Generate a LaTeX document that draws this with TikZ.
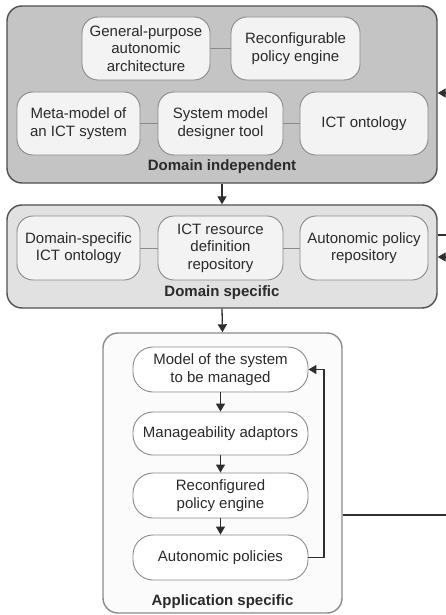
\documentclass[tikz,border=0pt]{standalone}
\usepackage{fontspec}
\setmainfont{Liberation Sans}
\usetikzlibrary{arrows.meta}
\definecolor{diFill}{HTML}{C4C4C4}
\definecolor{dsFill}{HTML}{E1E1E1}
\definecolor{appFill}{HTML}{FBFBFB}
\definecolor{innerFill}{HTML}{F3F3F3}
\definecolor{outerLine}{HTML}{505050}
\definecolor{innerLine}{HTML}{8A8A8A}
\definecolor{linkLine}{HTML}{2E2E2E}
\definecolor{textGray}{HTML}{2A2A2A}
\begin{document}
\begin{tikzpicture}[x=1pt,y=-1pt,
  font=\fontsize{15}{17.5}\selectfont, text=textGray,
  outerbox/.style={draw=outerLine, line width=1.4pt, rounded corners=15pt, inner sep=0pt},
  innerbox/.style={draw=innerLine, line width=0.9pt, fill=innerFill, rounded corners=16pt,
    align=center, inner sep=2pt},
  appitem/.style={innerbox, fill=white, rounded corners=20pt, minimum width=175pt, minimum height=45pt},
  grouplabel/.style={font=\fontsize{15}{17.5}\selectfont\bfseries, inner sep=0pt},
  peer/.style={draw=innerLine, line width=1pt},
  flow/.style={draw=linkLine, line width=1.3pt, -{Triangle[length=8pt,width=9pt]}},
  plainlink/.style={draw=linkLine, line width=1.3pt}
]
\useasboundingbox (0,0) rectangle (446,615);

% group containers
\node[outerbox, fill=diFill, minimum width=430pt, minimum height=177pt] (di) at (222,94.5) {};
\node[outerbox, fill=dsFill, minimum width=430pt, minimum height=103pt] (ds) at (222,256.5) {};
\node[outerbox, draw=innerLine, fill=appFill, minimum width=239pt, minimum height=280pt] (app) at (222.5,473) {};

% domain independent
\node[innerbox, minimum width=128pt, minimum height=63pt] (gp) at (146,48.5) {General-purpose\\autonomic\\architecture};
\node[innerbox, minimum width=129pt, minimum height=63pt] (rpe) at (295.5,48.5) {Reconfigurable\\policy engine};
\node[innerbox, minimum width=123pt, minimum height=63pt] (mm) at (78.5,123.5) {Meta-model of\\an ICT system};
\node[innerbox, minimum width=125pt, minimum height=63pt] (smd) at (220.5,123.5) {System model\\designer tool};
\node[innerbox, minimum width=128pt, minimum height=63pt] (ict) at (364,123.5) {ICT ontology};
\node[grouplabel] (dil) at (222,167) {Domain independent};

% domain specific
\node[innerbox, minimum width=123pt, minimum height=64pt] (dso) at (78.5,248) {Domain-specific\\ICT ontology};
\node[innerbox, minimum width=125pt, minimum height=64pt] (icr) at (220.5,248) {ICT resource\\definition\\repository};
\node[innerbox, minimum width=128pt, minimum height=64pt] (apr) at (364,248) {Autonomic policy\\repository};
\node[grouplabel] (dsl) at (222,293) {Domain specific};

% application specific
\node[appitem] (m1) at (220.5,369.5) {Model of the system\\to be managed};
\node[appitem, minimum height=43pt] (m2) at (220.5,433.5) {Manageability adaptors};
\node[appitem] (m3) at (220.5,495.5) {Reconfigured\\policy engine};
\node[appitem] (m4) at (220.5,557.5) {Autonomic policies};
\node[grouplabel] (apl) at (222.5,602) {Application specific};

% links between peers
\draw[peer] (gp) -- (rpe);
\draw[peer] (mm) -- (smd);
\draw[peer] (smd) -- (ict);
\draw[peer] (dso) -- (icr);
\draw[peer] (icr) -- (apr);

% flow between groups
\draw[flow] (di.south) -- (ds.north);
\draw[flow] (ds.south) -- (app.north);

% flow inside the application group
\draw[flow] (m1) -- (m2);
\draw[flow] (m2) -- (m3);
\draw[flow] (m3) -- (m4);
\coordinate (loop) at (324,557.5);
\draw[flow] (m4.east) -- (loop) |- (m1.east);

% feedback lines leaving to the right
\coordinate (outApp) at (446,515);
\coordinate (outDs) at (446,235);
\coordinate (inDs) at (446,257);
\coordinate (inDi) at (446,93);
\draw[plainlink] (app.east |- outApp) -- (outApp);
\draw[plainlink] (ds.east |- outDs) -- (outDs);
\draw[flow] (inDs) -- (ds.east |- inDs);
\draw[flow] (inDi) -- (di.east |- inDi);
\end{tikzpicture}
\end{document}
